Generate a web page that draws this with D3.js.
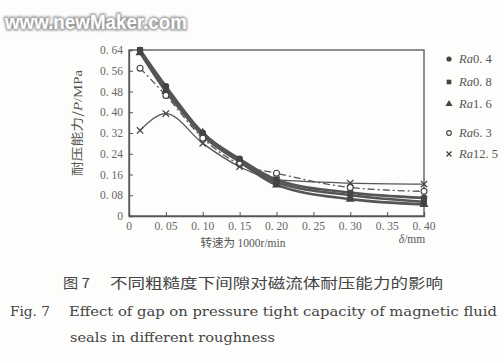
<!DOCTYPE html>
<html>
<head>
<meta charset="utf-8">
<script src="https://cdn.jsdelivr.net/npm/d3@7"></script>
<style>
  body { margin: 0; background: #fff; }
  svg { display: block; }
</style>
</head>
<body>
<div id="chart"></div>
<script>
// ---- data ----
var gaps = [0.015, 0.05, 0.10, 0.15, 0.20, 0.30, 0.40];
var ra04 = [0.64, 0.50, 0.32, 0.22, 0.14, 0.09, 0.07];
var ra08 = [0.64, 0.49, 0.31, 0.21, 0.13, 0.08, 0.055];
var ra16 = [0.63, 0.48, 0.32, 0.21, 0.12, 0.065, 0.045];
var ra63 = [0.57, 0.465, 0.30, 0.20, 0.165, 0.11, 0.095];
var ra125 = [0.33, 0.395, 0.28, 0.19, 0.14, 0.127, 0.123];
var seriesNames = ["Ra0. 4", "Ra0. 8", "Ra1. 6", "Ra6. 3", "Ra12. 5"];
var xTicks = [0, 0.05, 0.10, 0.15, 0.20, 0.25, 0.30, 0.35, 0.40];
var yTicks = [0, 0.08, 0.16, 0.24, 0.32, 0.40, 0.48, 0.56, 0.64];

var W = 504, H = 363;
var ink = "#555";
var svg = d3.select("#chart").append("svg").attr("width", W).attr("height", H);

svg.append("rect").attr("width", W).attr("height", H).attr("fill", "#fdfdfc");

// watermark
var defs = svg.append("defs");
var blur = defs.append("filter").attr("id", "soft");
blur.append("feGaussianBlur").attr("stdDeviation", 1.2);
svg.append("text").attr("x", 5).attr("y", 29)
  .attr("font-family", "Liberation Sans, Arial, sans-serif").attr("font-weight", "bold")
  .attr("font-size", 21).attr("fill", "none").attr("stroke", "#9a9a9a").attr("stroke-width", 3)
  .attr("filter", "url(#soft)").attr("textLength", 182).attr("lengthAdjust", "spacingAndGlyphs")
  .text("www.newMaker.com");
svg.append("text").attr("x", 5).attr("y", 29)
  .attr("font-family", "Liberation Sans, Arial, sans-serif").attr("font-weight", "bold")
  .attr("font-size", 21).attr("fill", "#fff")
  .attr("textLength", 182).attr("lengthAdjust", "spacingAndGlyphs")
  .text("www.newMaker.com");

// scales
var x = d3.scaleLinear().domain([0, 0.40]).range([129, 424]);
var y = d3.scaleLinear().domain([0, 0.64]).range([216, 50]);

var fmt = function(d) { return d === 0 ? "0" : d3.format(".2f")(d).replace(".", ". "); };

// frame
svg.append("rect").attr("x", x(0)).attr("y", y(0.64))
  .attr("width", x(0.40) - x(0)).attr("height", y(0) - y(0.64))
  .attr("fill", "none").attr("stroke", ink).attr("stroke-width", 1.3);

// axes
var xAxis = svg.append("g").attr("transform", "translate(0," + y(0) + ")")
  .call(d3.axisTop(x).tickValues(xTicks).tickSize(4).tickFormat(""));
xAxis.selectAll("g.tick").filter(function(d) { return d === 0 || d === 0.40; }).remove();
svg.selectAll(".xlab").data(xTicks).enter().append("text")
  .attr("x", function(d) { return x(d); }).attr("y", 230)
  .attr("text-anchor", "middle").attr("font-family", "Liberation Serif, serif")
  .attr("font-size", 11.5).attr("fill", "#666").text(fmt);

var yAxis = svg.append("g").attr("transform", "translate(" + x(0) + ",0)")
  .call(d3.axisRight(y).tickValues(yTicks).tickSize(4).tickFormat(""));
yAxis.selectAll("g.tick").filter(function(d) { return d === 0 || d === 0.64; }).remove();
svg.selectAll(".ylab").data(yTicks).enter().append("text")
  .attr("x", 123).attr("y", function(d) { return y(d) + 4; })
  .attr("text-anchor", "end").attr("font-family", "Liberation Serif, serif")
  .attr("font-size", 11.5).attr("fill", "#666").text(fmt);
svg.selectAll(".domain").attr("stroke", ink).attr("stroke-width", 1.3);
svg.selectAll(".tick line").attr("stroke", ink).attr("stroke-width", 1);

// axis titles
svg.append("text").attr("transform", "translate(82,123) rotate(-90)")
  .attr("text-anchor", "middle").attr("font-family", "Noto Sans CJK SC, Liberation Serif, serif")
  .attr("font-size", 12.5).attr("fill", "#555")
  .attr("textLength", 106).attr("lengthAdjust", "spacingAndGlyphs")
  .html('耐压能力/<tspan font-style="italic" font-family="Liberation Serif">P</tspan><tspan font-family="Liberation Serif">/MPa</tspan>');
svg.append("text").attr("x", 243).attr("y", 247).attr("text-anchor", "middle")
  .attr("font-family", "Noto Sans CJK SC, sans-serif").attr("font-size", 11.5).attr("fill", "#555")
  .html('转速为 <tspan font-family="Liberation Serif">1000r/min</tspan>');
svg.append("text").attr("x", 412).attr("y", 243).attr("text-anchor", "middle")
  .attr("font-family", "Liberation Serif, serif").attr("font-size", 11.5).attr("fill", "#555")
  .html('<tspan font-style="italic">δ</tspan>/mm');

// lines
var allSeries = [
  { name: seriesNames[0], v: ra04, w: 2.6, dash: null, mark: "circle" },
  { name: seriesNames[1], v: ra08, w: 2.6, dash: null, mark: "square" },
  { name: seriesNames[2], v: ra16, w: 2.6, dash: null, mark: "triangle" },
  { name: seriesNames[3], v: ra63, w: 1.3, dash: "7,3,2,3", mark: "open" },
  { name: seriesNames[4], v: ra125, w: 1.3, dash: null, mark: "cross" }
];

var line = d3.line().x(function(d) { return x(d[0]); }).y(function(d) { return y(d[1]); })
  .curve(d3.curveMonotoneX);

allSeries.forEach(function(s) {
  var pts = gaps.map(function(g, i) { return [g, s.v[i]]; });
  svg.append("path").datum(pts).attr("d", line)
    .attr("fill", "none").attr("stroke", ink).attr("stroke-width", s.w)
    .attr("stroke-dasharray", s.dash);
});

function drawMark(g, type, cx, cy, r) {
  if (type === "circle") {
    g.append("path").attr("d", d3.symbol(d3.symbolCircle, r * r * 3.2)()).attr("transform", "translate(" + cx + "," + cy + ")").attr("fill", "#444");
  } else if (type === "square") {
    g.append("path").attr("d", d3.symbol(d3.symbolSquare, r * r * 3.2)()).attr("transform", "translate(" + cx + "," + cy + ")").attr("fill", "#444");
  } else if (type === "triangle") {
    g.append("path").attr("d", d3.symbol(d3.symbolTriangle, r * r * 3.2)()).attr("transform", "translate(" + cx + "," + cy + ")").attr("fill", "#444");
  } else if (type === "open") {
    g.append("circle").attr("cx", cx).attr("cy", cy).attr("r", r * 0.9).attr("fill", "#fff").attr("stroke", "#444").attr("stroke-width", 1.1);
  } else {
    g.append("path").attr("d", d3.symbol(d3.symbolX, r * r * 2.6)()).attr("transform", "translate(" + cx + "," + cy + ")").attr("fill", "none").attr("stroke", "#444").attr("stroke-width", 1.3);
  }
}

var marks = svg.append("g");
allSeries.forEach(function(s) {
  gaps.forEach(function(g, i) { drawMark(marks, s.mark, x(g), y(s.v[i]), 3.3); });
});

// legend
var legendY = [59, 82, 104, 133, 154];
allSeries.forEach(function(s, i) {
  drawMark(svg, s.mark, 449, legendY[i], 2.6);
  svg.append("text").attr("x", 459).attr("y", legendY[i] + 4)
    .attr("font-family", "Liberation Serif, serif").attr("font-size", 12.5).attr("fill", "#555")
    .html('<tspan font-style="italic">Ra</tspan>' + s.name.slice(2));
});

// caption
var capFont = "DejaVu Serif, Liberation Serif, serif";
svg.append("text").attr("x", 63).attr("y", 288)
  .attr("font-family", "Noto Sans CJK SC, sans-serif").attr("font-size", 13.5).attr("fill", "#444")
  .attr("textLength", 27).attr("lengthAdjust", "spacingAndGlyphs")
  .text("图 7");
svg.append("text").attr("x", 110).attr("y", 288)
  .attr("font-family", "Noto Sans CJK SC, sans-serif").attr("font-size", 13.5).attr("fill", "#444")
  .attr("textLength", 333).attr("lengthAdjust", "spacingAndGlyphs")
  .text("不同粗糙度下间隙对磁流体耐压能力的影响");
svg.append("text").attr("x", 10).attr("y", 316)
  .attr("font-family", capFont).attr("font-size", 13).attr("fill", "#444")
  .attr("textLength", 40).attr("lengthAdjust", "spacingAndGlyphs")
  .text("Fig. 7");
svg.append("text").attr("x", 69).attr("y", 316)
  .attr("font-family", capFont).attr("font-size", 13).attr("fill", "#444")
  .attr("textLength", 428).attr("lengthAdjust", "spacingAndGlyphs")
  .text("Effect of gap on pressure tight capacity of magnetic fluid");
svg.append("text").attr("x", 70).attr("y", 342)
  .attr("font-family", capFont).attr("font-size", 13).attr("fill", "#444")
  .attr("textLength", 205).attr("lengthAdjust", "spacingAndGlyphs")
  .text("seals in different roughness");
</script>
</body>
</html>
